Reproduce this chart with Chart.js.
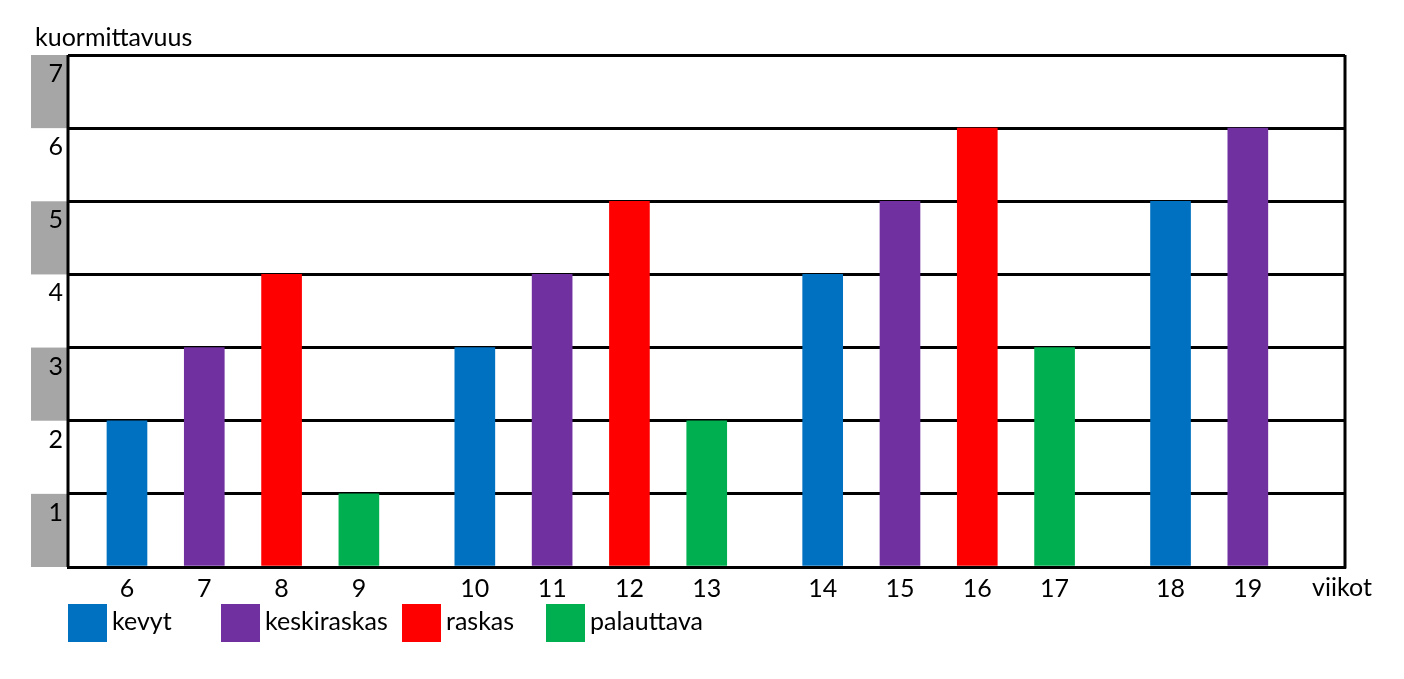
<!DOCTYPE html>
<html>
<head>
<meta charset="utf-8">
<script src="https://cdn.jsdelivr.net/npm/chart.js@4.4.0/dist/chart.umd.min.js"></script>
<style>
  html, body { margin: 0; padding: 0; background: #fff; }
  #wrap { width: 1404px; height: 679px; }
</style>
</head>
<body>
<div id="wrap"><canvas id="myChart" width="1404" height="679"></canvas></div>
<script>
// viikot ja kuormittavuus
const weeks = ['6', '7', '8', '9', '10', '11', '12', '13', '14', '15', '16', '17', '18', '19'];
const slots = [0, 1, 2, 3, 4.5, 5.5, 6.5, 7.5, 9, 10, 11, 12, 13.5, 14.5];
const load = [2, 3, 4, 1, 3, 4, 5, 2, 4, 5, 6, 3, 5, 6];
const loadType = [0, 1, 2, 3, 0, 1, 2, 3, 0, 1, 2, 3, 0, 1];
const types = ['kevyt', 'keskiraskas', 'raskas', 'palauttava'];
const colors = ['#0070C0', '#7030A0', '#FF0000', '#00B050'];
const yTicks = [1, 2, 3, 4, 5, 6, 7];

const FONT = 'Lato, "Open Sans", sans-serif';

window.onload = function() {
    let datasets = types.map(function(name, t) {
        let pts = [];
        for (let i = 0; i < weeks.length; i++) {
            if (loadType[i] === t) pts.push({ x: slots[i], y: load[i] });
        }
        return {
            label: name,
            data: pts,
            backgroundColor: colors[t],
            borderWidth: 0,
            barThickness: 40,
            grouped: false
        };
    });

    // harmaat raidat, numerot, kehys ja selite
    let decor = {
        id: 'decor',
        beforeDatasetsDraw(chart) {
            let ctx = chart.ctx;
            let a = chart.chartArea;
            ctx.save();
            ctx.strokeStyle = '#000';
            ctx.lineWidth = 3;
            ctx.beginPath();
            ctx.moveTo(a.left, a.top);
            ctx.lineTo(a.left, a.bottom);
            ctx.moveTo(a.right, a.top);
            ctx.lineTo(a.right, a.bottom + 1.5);
            ctx.stroke();
            ctx.restore();
        },
        beforeDraw(chart) {
            let ctx = chart.ctx;
            let a = chart.chartArea;
            let y = chart.scales.y;
            ctx.save();
            ctx.fillStyle = '#fff';
            ctx.fillRect(0, 0, chart.width, chart.height);
            yTicks.forEach(function(v) {
                let top = y.getPixelForValue(v);
                let bot = y.getPixelForValue(v - 1);
                if (v % 2 === 1) {
                    ctx.fillStyle = '#A6A6A6';
                    ctx.fillRect(31, top, a.left - 31, bot - top);
                }
                ctx.fillStyle = '#000';
                ctx.font = '25px ' + FONT;
                ctx.textAlign = 'right';
                ctx.textBaseline = 'middle';
                ctx.fillText(String(v), a.left - 5, top + 19);
            });
            ctx.textAlign = 'left';
            ctx.textBaseline = 'middle';
            ctx.fillText('kuormittavuus', 35, 38);
            ctx.textAlign = 'center';
            ctx.fillText('viikot', a.right - 3, 588);
            ctx.restore();
        },
        afterDraw(chart) {
            let ctx = chart.ctx;
            let boxX = [68, 221, 402, 546];
            ctx.save();
            ctx.font = '25px ' + FONT;
            ctx.textAlign = 'left';
            ctx.textBaseline = 'middle';
            types.forEach(function(name, t) {
                ctx.fillStyle = colors[t];
                ctx.fillRect(boxX[t], 604, 39, 38);
                ctx.fillStyle = '#000';
                ctx.fillText(name, boxX[t] + 44, 622);
            });
            ctx.restore();
        }
    };

    let ctx = document.getElementById('myChart').getContext('2d');
    let myChart = new Chart(ctx, {
        type: 'bar',
        data: { datasets: datasets },
        options: {
            responsive: false,
            animation: false,
            layout: { padding: { left: 68, top: 55, right: 59, bottom: 62 } },
            plugins: {
                legend: { display: false },
                tooltip: { enabled: false }
            },
            scales: {
                x: {
                    type: 'linear',
                    min: -0.763,
                    max: 15.757,
                    offset: false,
                    grid: { display: false },
                    border: { display: true, color: '#000', width: 3 },
                    afterBuildTicks(scale) {
                        scale.ticks = slots.map(v => ({ value: v }));
                    },
                    afterFit(scale) { scale.height = 50; },
                    ticks: {
                        autoSkip: false,
                        maxRotation: 0,
                        padding: -1,
                        color: '#000',
                        font: { family: FONT, size: 25 },
                        callback: function(value, index) { return weeks[index]; }
                    }
                },
                y: {
                    min: 0,
                    max: 7,
                    afterBuildTicks(scale) {
                        scale.ticks = [0].concat(yTicks).map(v => ({ value: v }));
                    },
                    afterFit(scale) { scale.width = 0; },
                    border: { display: false },
                    grid: { color: '#000', lineWidth: 3, drawTicks: false },
                    ticks: { display: false }
                }
            }
        },
        plugins: [decor]
    });
};
</script>
</body>
</html>
